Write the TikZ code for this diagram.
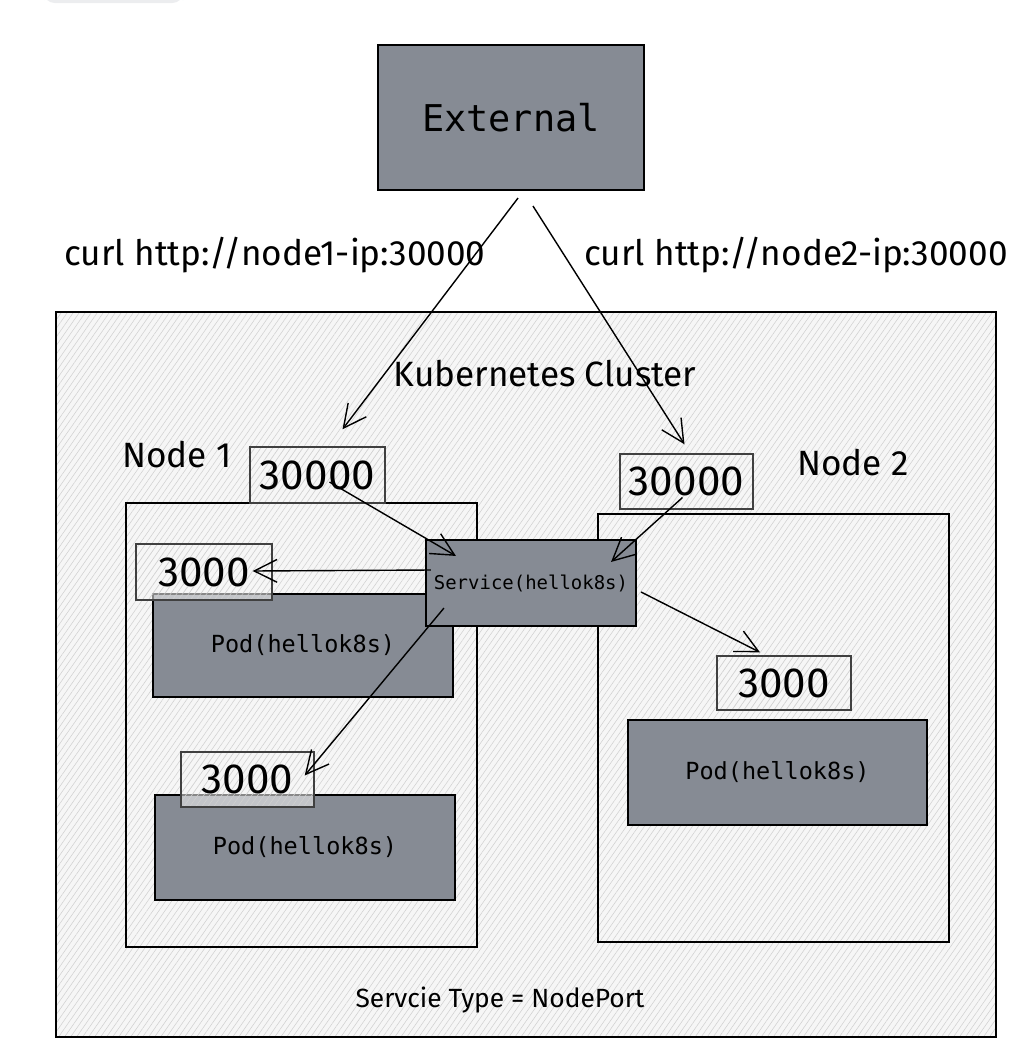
\documentclass[tikz,border=0pt]{standalone}
\usepackage{fontspec}
\setmainfont{Fira Sans}
\setmonofont{DejaVu Sans Mono}
\usetikzlibrary{arrows.meta,patterns.meta,calc}
\definecolor{boxgray}{RGB}{134,139,148}
\definecolor{hatchbg}{RGB}{246,246,246}
\definecolor{hatchln}{RGB}{208,208,208}
\definecolor{tabgray}{RGB}{236,237,239}
\begin{document}
\begin{tikzpicture}[x=0.02cm, y=-0.02cm,
		hatched/.style={preaction={fill=hatchbg}, pattern={Lines[angle=55,distance=2.8pt,line width=0.3pt]}, pattern color=hatchln},
		greybox/.style={draw=black, line width=1.2pt, fill=boxgray, font=\ttfamily, inner sep=0pt},
		hostbox/.style={draw=black, line width=1.2pt, hatched, inner sep=0pt},
		portbox/.style={draw=black!75, line width=0.8pt, preaction={fill=hatchbg, fill opacity=0.55},
			pattern={Lines[angle=55,distance=2.8pt,line width=0.3pt]}, pattern color=hatchln, inner sep=0pt,
			font=\fontsize{24}{24}\selectfont},
		hand/.style={inner sep=0pt, font=\fontsize{20}{20}\selectfont},
		arr/.style={-{Straight Barb[length=13pt,width=13pt]}, line width=0.8pt}]
	\useasboundingbox (0,0) rectangle (1026,1052);
	\fill[tabgray, rounded corners=6pt] (44,-10) rectangle (183,3);
	% external side
	\node[greybox, minimum width=266*0.02cm, minimum height=145*0.02cm, font=\ttfamily\fontsize{21}{21}\selectfont] (ext) at (511,117.5) {External};
	\node[hand] (curla) at (275,255) {curl http://node1-ip:30000};
	\node[hand] (curlb) at (796,255) {curl http://node2-ip:30000};
	% cluster and the two nodes
	\node[hostbox, minimum width=940*0.02cm, minimum height=725*0.02cm] (cluster) at (526,674.5) {};
	\node[hand] (kc) at (545,374) {Kubernetes Cluster};
	\node[hand] (lbla) at (177,455) {Node 1};
	\node[hand] (lblb) at (853,463) {Node 2};
	\node[hostbox, minimum width=351*0.02cm, minimum height=444*0.02cm] (nodea) at (301.5,725) {};
	\node[hostbox, minimum width=351*0.02cm, minimum height=428*0.02cm] (nodeb) at (773.5,728) {};
	\node[portbox, minimum width=135*0.02cm, minimum height=56*0.02cm] (npa) at (317.5,475) {30000};
	\node[portbox, minimum width=133*0.02cm, minimum height=55*0.02cm] (npb) at (686.5,481.5) {30000};
	% pods
	\node[greybox, minimum width=300*0.02cm, minimum height=103*0.02cm, font=\ttfamily\fontsize{13.4}{13.4}\selectfont] (poda) at (303,645.5) {Pod(hellok8s)};
	\node[greybox, minimum width=300*0.02cm, minimum height=105*0.02cm, font=\ttfamily\fontsize{13.4}{13.4}\selectfont] (podb) at (305,847.5) {Pod(hellok8s)};
	\node[greybox, minimum width=299*0.02cm, minimum height=105*0.02cm, font=\ttfamily\fontsize{13.4}{13.4}\selectfont] (podc) at (777.5,772.5) {Pod(hellok8s)};
	\node[portbox, minimum width=136*0.02cm, minimum height=56*0.02cm] (tpa) at (204,572) {3000};
	\node[portbox, minimum width=133*0.02cm, minimum height=55*0.02cm] (tpb) at (247.5,779.5) {3000};
	\node[portbox, minimum width=134*0.02cm, minimum height=54*0.02cm] (tpc) at (784,683) {3000};
	\node[greybox, minimum width=210*0.02cm, minimum height=86*0.02cm, font=\ttfamily\fontsize{10.8}{10.8}\selectfont] (svc) at (531,583) {Service(hellok8s)};
	\node[hand, font=\fontsize{15}{15}\selectfont] (kind) at (500,1000) {Servcie Type = NodePort};
	% arrows
	\draw[arr] ($(ext.south)+(7,7)$) -- ($(npa.north)+(25,-17)$);
	\draw[arr] ($(ext.south)+(22,15)$) -- ($(npb.north)+(-2,-9)$);
	\draw[arr] ($(npa.center)+(12,7)$) -- ($(svc.north west)+(31,17)$);
	\draw[arr] ($(npb.center)+(-4,16)$) -- ($(svc.north east)+(-26,23)$);
	\draw[arr] ($(svc.west)+(6,-13)$) -- ($(tpa.east)+(-20,-1)$);
	\draw[arr] ($(svc.south west)+(19,-19)$) -- ($(tpb.east)+(-10,-4)$);
	\draw[arr] ($(svc.east)+(4,9)$) -- ($(tpc.north)+(-24,-3)$);
\end{tikzpicture}
\end{document}
